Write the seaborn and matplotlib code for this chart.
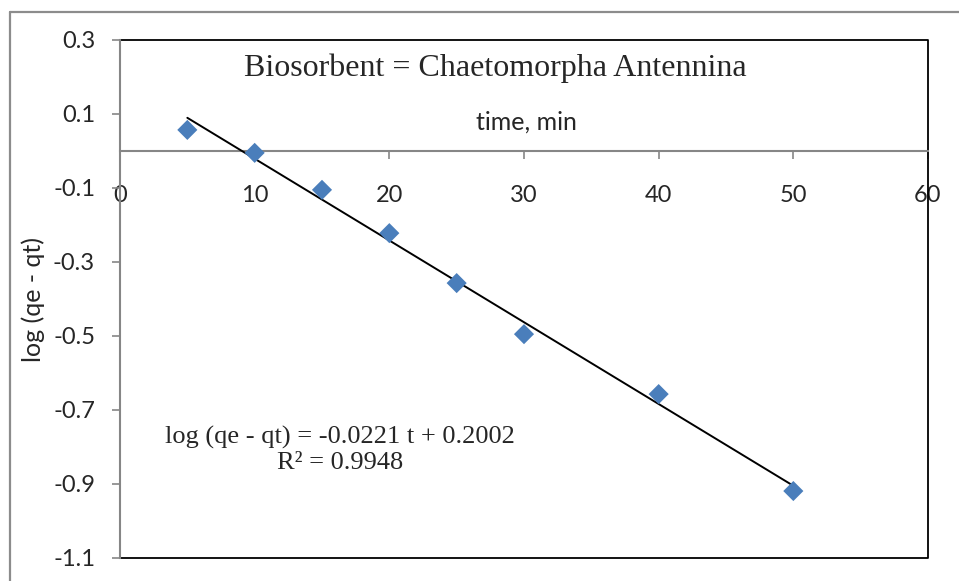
import matplotlib
matplotlib.use("Agg")
import matplotlib.pyplot as plt
from matplotlib.lines import Line2D
import seaborn as sns
import pandas as pd
import numpy as np

# Data
time_min = [5, 10, 15, 20, 25, 30, 40, 50]
log_qe_qt = [0.057, -0.005, -0.105, -0.222, -0.357, -0.495, -0.657, -0.919]
slope = -0.0221
intercept = 0.2002
r_squared = 0.9948
x_ticks = [0, 10, 20, 30, 40, 50, 60]
y_ticks = [0.3, 0.1, -0.1, -0.3, -0.5, -0.7, -0.9, -1.1]
title_text = "Biosorbent = Chaetomorpha Antennina"
x_label = "time, min"
y_label = "log (qe - qt)"

df = pd.DataFrame({"time": time_min, "log": log_qe_qt})

sns.set_theme(style="white")
plt.rcParams["font.family"] = ["Lato", "DejaVu Sans"]

W, H = 959, 581
fig = plt.figure(figsize=(W / 100, H / 100), dpi=100)
fig.patch.set_facecolor("white")

L, R, T, B = 120, 928, 40, 558
ax = fig.add_axes([L / W, 1 - B / H, (R - L) / W, (B - T) / H])

def fx(px):
    return (px - L) / (R - L)

def fy(py):
    return (B - py) / (B - T)

# trendline
tx = np.array([min(time_min), max(time_min)])
trend = pd.DataFrame({"time": tx, "fit": slope * tx + intercept})
sns.lineplot(data=trend, x="time", y="fit", ax=ax, color="black", linewidth=1.4, zorder=3)

sns.scatterplot(data=df, x="time", y="log", ax=ax, marker="D", s=105,
                color="#4A7EBB", edgecolor="none", linewidth=0, zorder=4)

ax.set_xlim(0, 60)
ax.set_ylim(-1.1, 0.3)
ax.set_xticks(x_ticks)
ax.set_yticks(y_ticks)
ax.set_xticklabels([str(v) for v in x_ticks])
ax.set_yticklabels([f"{v:.1f}" for v in y_ticks])
ax.set_xlabel("")
ax.set_ylabel(y_label, fontsize=18)
ax.yaxis.set_label_coords(fx(33), 0.5)
ax.yaxis.label.set_va("center")

axis_gray = "#868686"
for s in ["top", "right"]:
    ax.spines[s].set_visible(False)
ax.spines["bottom"].set_position(("data", 0))
ax.spines["bottom"].set_color(axis_gray)
ax.spines["bottom"].set_linewidth(1.5)
ax.spines["left"].set_color(axis_gray)
ax.spines["left"].set_linewidth(1.5)
ax.spines["left"].set_zorder(5)

# plot-area border (top, right, bottom)
ax.plot([0, 1, 1, 0], [1, 1, 0, 0], transform=ax.transAxes, color="black",
        linewidth=1.3, clip_on=False, zorder=2)

ax.tick_params(axis="x", direction="out", length=5.5, width=1.2, color=axis_gray,
               pad=19, labelsize=17, bottom=True)
ax.tick_params(axis="y", direction="out", length=6, width=1.2, color=axis_gray,
               pad=12, labelsize=17, left=True)
for lab in ax.get_xticklabels():
    lab.set_zorder(6)

ax.text(fx(495), fy(68), title_text, transform=ax.transAxes, ha="center", va="center",
        fontsize=23, family=["Liberation Serif", "DejaVu Serif"])
ax.text(fx(526), fy(122), x_label, transform=ax.transAxes,
        ha="center", va="center", fontsize=18)
eq = f"log (qe - qt) = {slope:.4f} t + {intercept:.4f}\nR\u00b2 = {r_squared:.4f}"
ax.text(fx(340), fy(450), eq, transform=ax.transAxes,
        ha="center", va="center", fontsize=19, linespacing=1.22,
        family=["Liberation Serif", "DejaVu Serif"])

# chart-area border
gray = "#8C8C8C"
fig.add_artist(Line2D([10 / W, 10 / W], [0, 1 - 12 / H], transform=fig.transFigure,
                      color=gray, linewidth=1.6))
fig.add_artist(Line2D([10 / W, 1], [1 - 12 / H, 1 - 12 / H], transform=fig.transFigure,
                      color=gray, linewidth=1.6))

fig.savefig("out.png", dpi=100, facecolor="white")
